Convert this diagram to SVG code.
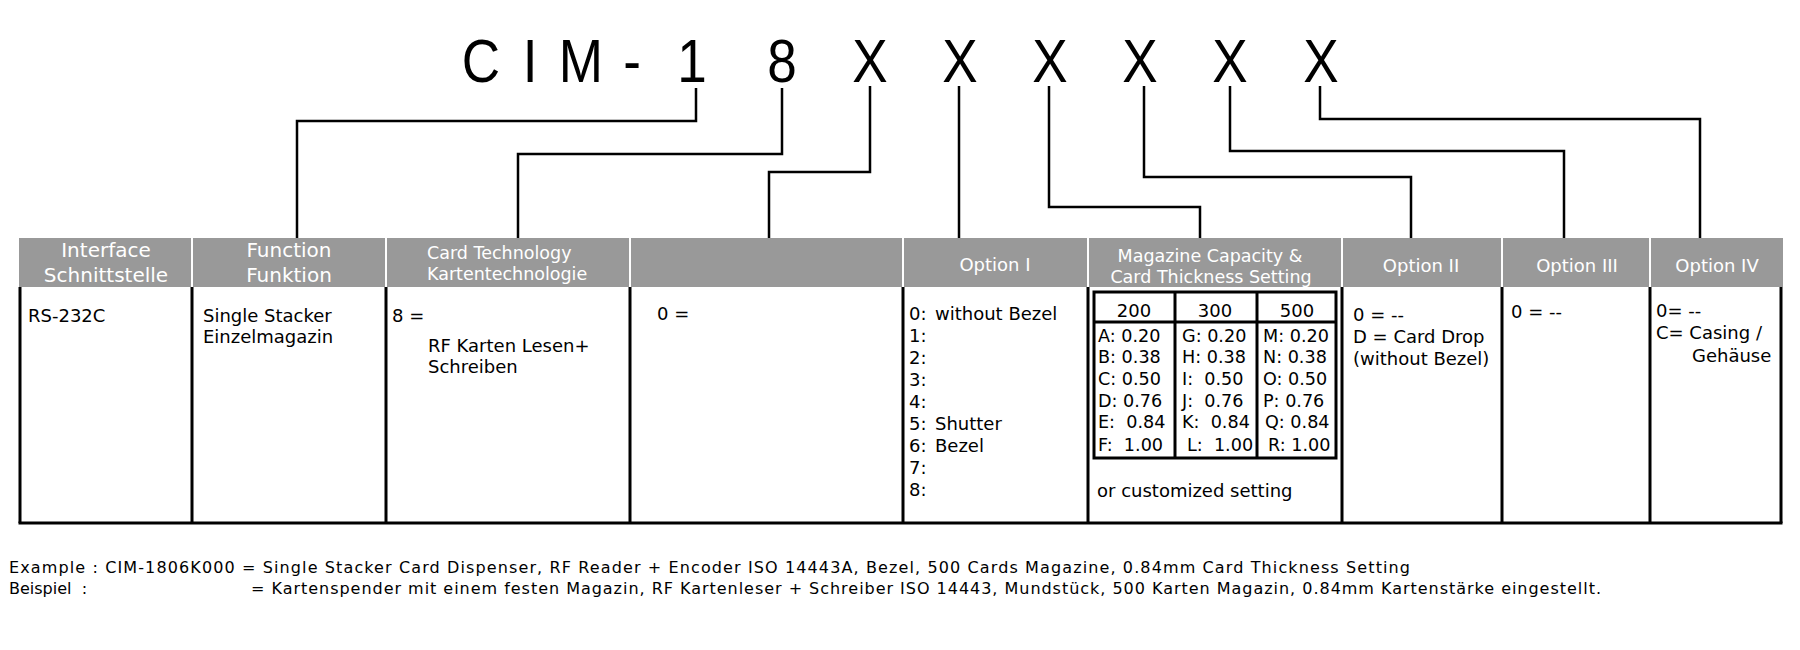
<svg xmlns="http://www.w3.org/2000/svg" width="1800" height="650" viewBox="0 0 1800 650">
<style>
.hd{fill:#999999}
.ht{font-family:"DejaVu Sans","Noto Sans",sans-serif;fill:#ffffff;text-anchor:middle}
.bt{font-family:"DejaVu Sans","Noto Sans",sans-serif;font-size:18px;fill:#000}
.mg{font-family:"DejaVu Sans","Noto Sans",sans-serif;font-size:17.6px;fill:#000}
.ln{stroke:#000;stroke-width:3;fill:none}
.cn{stroke:#000;stroke-width:2.5;fill:none}
.ft{font-family:"DejaVu Sans","Noto Sans",sans-serif;font-size:16px;fill:#000}
.ttl{font-family:"Liberation Sans",Arial,sans-serif;font-size:61px;fill:#000;text-anchor:middle}
</style>
<rect width="1800" height="650" fill="#fff"/>

<text class="ttl" transform="scale(0.87 1)" y="82" x="552.9 609.2 667.8 726.4 760.9 795.4 847.1 898.9 949.4 1000 1051.7 1103.4 1155.2 1206.9 1258.6 1310.3 1362.1 1413.8 1465.5 1518.4">CIM- 1 8 X X X X X X</text>

<g id="connectors">
<path class="cn" d="M696,88 V121 H297 V238"/>
<path class="cn" d="M782,88 V154 H518 V238"/>
<path class="cn" d="M870,86 V172 H769 V238"/>
<path class="cn" d="M959,86 V238"/>
<path class="cn" d="M1049,86 V207 H1200 V238"/>
<path class="cn" d="M1144,86 V177 H1411 V238"/>
<path class="cn" d="M1230,86 V151 H1564 V238"/>
<path class="cn" d="M1320,86 V119 H1700 V238"/>
</g>

<g id="interface">
<rect class="hd" x="19" y="238" width="172" height="49"/>
<text class="ht" font-size="20" x="106" y="257">Interface</text>
<text class="ht" font-size="20" x="106" y="282">Schnittstelle</text>
<text class="bt" x="28" y="322">RS-232C</text>
</g>

<g id="function">
<rect class="hd" x="193" y="238" width="192" height="49"/>
<text class="ht" font-size="20" x="289" y="257">Function</text>
<text class="ht" font-size="20" x="289" y="282">Funktion</text>
<text class="bt" x="203" y="322">Single Stacker</text>
<text class="bt" x="203" y="343">Einzelmagazin</text>
</g>

<g id="card-technology">
<rect class="hd" x="387" y="238" width="242" height="49"/>
<text class="ht" font-size="17.5" x="427" y="259" style="text-anchor:start">Card Technology</text>
<text class="ht" font-size="17.5" x="427" y="280" style="text-anchor:start">Kartentechnologie</text>
<text class="bt" x="392" y="322">8 =</text>
<text class="bt" x="428" y="352">RF Karten Lesen+</text>
<text class="bt" x="428" y="373">Schreiben</text>
</g>

<g id="blank-column">
<rect class="hd" x="631" y="238" width="271" height="49"/>
<text class="bt" x="657" y="320">0 =</text>
</g>

<g id="option-1">
<rect class="hd" x="904" y="238" width="183" height="49"/>
<text class="ht" font-size="18" x="995" y="271">Option I</text>
<text class="bt" y="320"><tspan x="909">0:</tspan><tspan x="935">without Bezel</tspan></text>
<text class="bt" x="909" y="342">1:</text>
<text class="bt" x="909" y="364">2:</text>
<text class="bt" x="909" y="386">3:</text>
<text class="bt" x="909" y="408">4:</text>
<text class="bt" y="430"><tspan x="909">5:</tspan><tspan x="935">Shutter</tspan></text>
<text class="bt" y="452"><tspan x="909">6:</tspan><tspan x="935">Bezel</tspan></text>
<text class="bt" x="909" y="474">7:</text>
<text class="bt" x="909" y="496">8:</text>
</g>

<g id="magazine">
<rect class="hd" x="1089" y="238" width="252" height="49"/>
<text class="ht" font-size="17.5" x="1210" y="262">Magazine Capacity &amp;</text>
<text class="ht" font-size="17.5" x="1211" y="283">Card Thickness Setting</text>
<rect class="ln" x="1094" y="292" width="242" height="166"/>
<line class="ln" x1="1094" y1="322" x2="1336" y2="322"/>
<line class="ln" x1="1175" y1="292" x2="1175" y2="458"/>
<line class="ln" x1="1257" y1="292" x2="1257" y2="458"/>
<text class="bt" x="1134" y="317" text-anchor="middle">200</text>
<text class="bt" x="1215" y="317" text-anchor="middle">300</text>
<text class="bt" x="1297" y="317" text-anchor="middle">500</text>
<g class="mg">
<text x="1098" y="342">A: 0.20</text>
<text x="1098" y="363">B: 0.38</text>
<text x="1098" y="385">C: 0.50</text>
<text x="1098" y="407">D: 0.76</text>
<text x="1098" y="428">E:&#160; 0.84</text>
<text x="1098" y="451">F:&#160; 1.00</text>
<text x="1182" y="342">G: 0.20</text>
<text x="1182" y="363">H: 0.38</text>
<text x="1182" y="385">I:&#160; 0.50</text>
<text x="1182" y="407">J:&#160; 0.76</text>
<text x="1182" y="428">K:&#160; 0.84</text>
<text x="1187" y="451">L:&#160; 1.00</text>
<text x="1263" y="342">M: 0.20</text>
<text x="1263" y="363">N: 0.38</text>
<text x="1263" y="385">O: 0.50</text>
<text x="1263" y="407">P: 0.76</text>
<text x="1265" y="428">Q: 0.84</text>
<text x="1268" y="451">R: 1.00</text>
</g>
<text class="bt" x="1097" y="497">or customized setting</text>
</g>

<g id="option-2">
<rect class="hd" x="1343" y="238" width="158" height="49"/>
<text class="ht" font-size="18" x="1421" y="272">Option II</text>
<text class="bt" x="1353" y="321">0 = --</text>
<text class="bt" x="1353" y="343">D = Card Drop</text>
<text class="bt" x="1353" y="365">(without Bezel)</text>
</g>

<g id="option-3">
<rect class="hd" x="1503" y="238" width="146" height="49"/>
<text class="ht" font-size="18" x="1577" y="272">Option III</text>
<text class="bt" x="1511" y="318">0 = --</text>
</g>

<g id="option-4">
<rect class="hd" x="1651" y="238" width="132" height="49"/>
<text class="ht" font-size="18" x="1717" y="272">Option IV</text>
<text class="bt" x="1656" y="317">0= --</text>
<text class="bt" x="1656" y="339">C= Casing /</text>
<text class="bt" x="1692" y="362">Gehäuse</text>
</g>

<g id="table-lines">
<path class="ln" d="M20,287 V523 M192,287 V523 M386,287 V523 M630,287 V523 M903,287 V523 M1088,287 V523 M1342,287 V523 M1502,287 V523 M1650,287 V523 M1781,287 V523"/>
<line class="ln" x1="18.5" y1="523" x2="1782.5" y2="523"/>
</g>

<g id="footer">
<text class="ft" x="9" y="573" textLength="1401">Example : CIM-1806K000 = Single Stacker Card Dispenser, RF Reader + Encoder ISO 14443A, Bezel, 500 Cards Magazine, 0.84mm Card Thickness Setting</text>
<text class="ft" x="9" y="594">Beispiel&#160; :</text>
<text class="ft" x="251" y="594" textLength="1350">= Kartenspender mit einem festen Magazin, RF Kartenleser + Schreiber ISO 14443, Mundstück, 500 Karten Magazin, 0.84mm Kartenstärke eingestellt.</text>
</g>
</svg>
